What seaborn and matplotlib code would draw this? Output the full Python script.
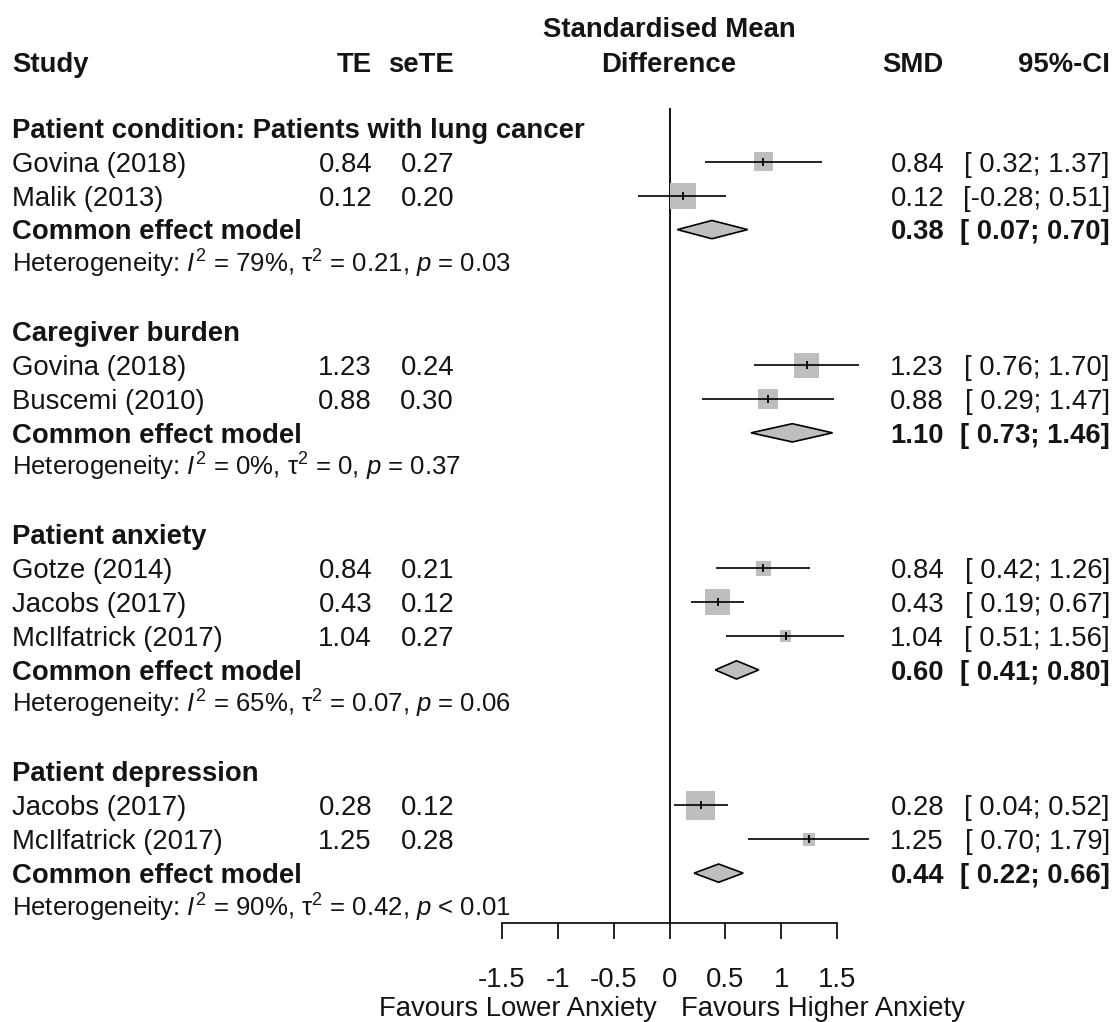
import numpy as np
import matplotlib
matplotlib.use('Agg')
import matplotlib.pyplot as plt
import seaborn as sns
from matplotlib.patches import Polygon
from matplotlib.transforms import blended_transform_factory

# data
subgroups = ['Patient condition: Patients with lung cancer', 'Caregiver burden',
             'Patient anxiety', 'Patient depression']
study = ['Govina (2018)', 'Malik (2013)', 'Govina (2018)', 'Buscemi (2010)',
         'Gotze (2014)', 'Jacobs (2017)', 'McIlfatrick (2017)',
         'Jacobs (2017)', 'McIlfatrick (2017)']
group = [0, 0, 1, 1, 2, 2, 2, 3, 3]
te = [0.84, 0.12, 1.23, 0.88, 0.84, 0.43, 1.04, 0.28, 1.25]
sete = [0.27, 0.20, 0.24, 0.30, 0.21, 0.12, 0.27, 0.12, 0.28]
ci_low = [0.32, -0.28, 0.76, 0.29, 0.42, 0.19, 0.51, 0.04, 0.70]
ci_high = [1.37, 0.51, 1.70, 1.47, 1.26, 0.67, 1.56, 0.52, 1.79]
pooled = [0.38, 1.10, 0.60, 0.44]
pooled_low = [0.07, 0.73, 0.41, 0.22]
pooled_high = [0.70, 1.46, 0.80, 0.66]
i2 = ['79%', '0%', '65%', '90%']
tau2 = ['0.21', '0', '0.07', '0.42']
pval = ['= 0.03', '= 0.37', '= 0.06', '< 0.01']
ticks = [-1.5, -1, -0.5, 0, 0.5, 1, 1.5]
tick_labels = ['-1.5', '-1', '-0.5', '0', '0.5', '1', '1.5']

sns.set_style('ticks')
plt.rcParams['font.family'] = ['Liberation Sans', 'DejaVu Sans']
plt.rcParams['mathtext.fontset'] = 'custom'
plt.rcParams['mathtext.rm'] = 'Liberation Sans'
plt.rcParams['mathtext.it'] = 'Liberation Sans:italic'
plt.rcParams['mathtext.bf'] = 'Liberation Sans:bold'

W, H = 1118, 1022
ROW0, STEP = 128, 33.87
FS, FS_HET = 19.8, 18.5
INK = '#141414'
GREY = '#bebebe'


def row(ypx):
    return (ypx - ROW0) / STEP


fig = plt.figure(figsize=(W / 100, H / 100), dpi=100)
ax = fig.add_axes([502 / W, 1 - 923 / H, (837 - 502) / W, (923 - 108) / H])
ax.set_xlim(-1.5, 1.5)
ax.set_ylim(row(923), row(108))
sns.despine(ax=ax, left=True)
ax.spines['bottom'].set_linewidth(1.2)
ax.spines['bottom'].set_color('black')
ax.set_yticks([])
ax.set_xticks(ticks)
ax.set_xticklabels(tick_labels)
ax.tick_params(axis='x', direction='out', length=11.5, width=1.2,
               pad=20, labelsize=FS, colors='black', labelcolor=INK)
ax.axvline(0, color='black', lw=1.3, zorder=1)

tx = blended_transform_factory(fig.transFigure, ax.transData)
BASE = 0.29


def put(xpx, r, s, ha='left', bold=False, fs=FS, base=BASE):
    fig.text(xpx / W, r + base, s, transform=tx, ha=ha, va='baseline',
             fontsize=fs, color=INK, fontweight='bold' if bold else 'normal')


# header
hdr = row(62)
put(12, hdr, 'Study', bold=True)
put(372, hdr, 'TE', ha='right', bold=True)
put(454, hdr, 'seTE', ha='right', bold=True)
put(669, row(27), 'Standardised Mean', ha='center', bold=True)
put(669, hdr, 'Difference', ha='center', bold=True)
put(944, hdr, 'SMD', ha='right', bold=True)
put(1110, hdr, '95%-CI', ha='right', bold=True)

study_rows = []
r = 0
for g, name in enumerate(subgroups):
    put(12, r, name, bold=True)
    r += 1
    idx = [i for i in range(len(study)) if group[i] == g]
    for i in idx:
        put(12, r, study[i])
        put(372, r, f'{te[i]:.2f}', ha='right')
        put(454, r, f'{sete[i]:.2f}', ha='right')
        put(944, r, f'{te[i]:.2f}', ha='right')
        put(1110, r, f'[{ci_low[i]:5.2f}; {ci_high[i]:.2f}]', ha='right')
        ax.hlines(r, ci_low[i], ci_high[i], color='black', lw=1.2,
                  zorder=3, clip_on=False)
        study_rows.append(r)
        r += 1
    put(12, r, 'Common effect model', bold=True)
    put(944, r, f'{pooled[g]:.2f}', ha='right', bold=True)
    put(1110, r, f'[{pooled_low[g]:5.2f}; {pooled_high[g]:.2f}]', ha='right', bold=True)
    dh = 0.27
    ax.add_patch(Polygon([[pooled_low[g], r], [pooled[g], r - dh],
                          [pooled_high[g], r], [pooled[g], r + dh]],
                         closed=True, facecolor=GREY, edgecolor='black',
                         lw=1.2, zorder=3, clip_on=False))
    r += 1
    het = (r'Heterogeneity: $I^{2}$ = ' + i2[g] +
           r', τ$^{2}$ = ' + tau2[g] + r', $p$ ' + pval[g])
    put(12, r, het, fs=FS_HET, base=0.27)
    r += 2

# squares sized by within-subgroup weight
w = 1 / np.array(sete) ** 2
gsum = np.array([w[np.array(group) == group[i]].sum() for i in range(len(w))])
side_pt = 32 * np.sqrt(w / gsum) * 0.72
sns.scatterplot(x=te, y=study_rows, s=side_pt ** 2, marker='s', color=GREY,
                edgecolor='none', linewidth=0, ax=ax, zorder=2,
                clip_on=False, legend=False)
ax.plot(te, study_rows, linestyle='none', marker='|', markersize=6,
        mew=1.3, color='black', zorder=4, clip_on=False)

# direction labels
put(657, row(1006), 'Favours Lower Anxiety', ha='right')
put(681, row(1006), 'Favours Higher Anxiety', ha='left')

fig.savefig('out.png', dpi=100, facecolor='white')
